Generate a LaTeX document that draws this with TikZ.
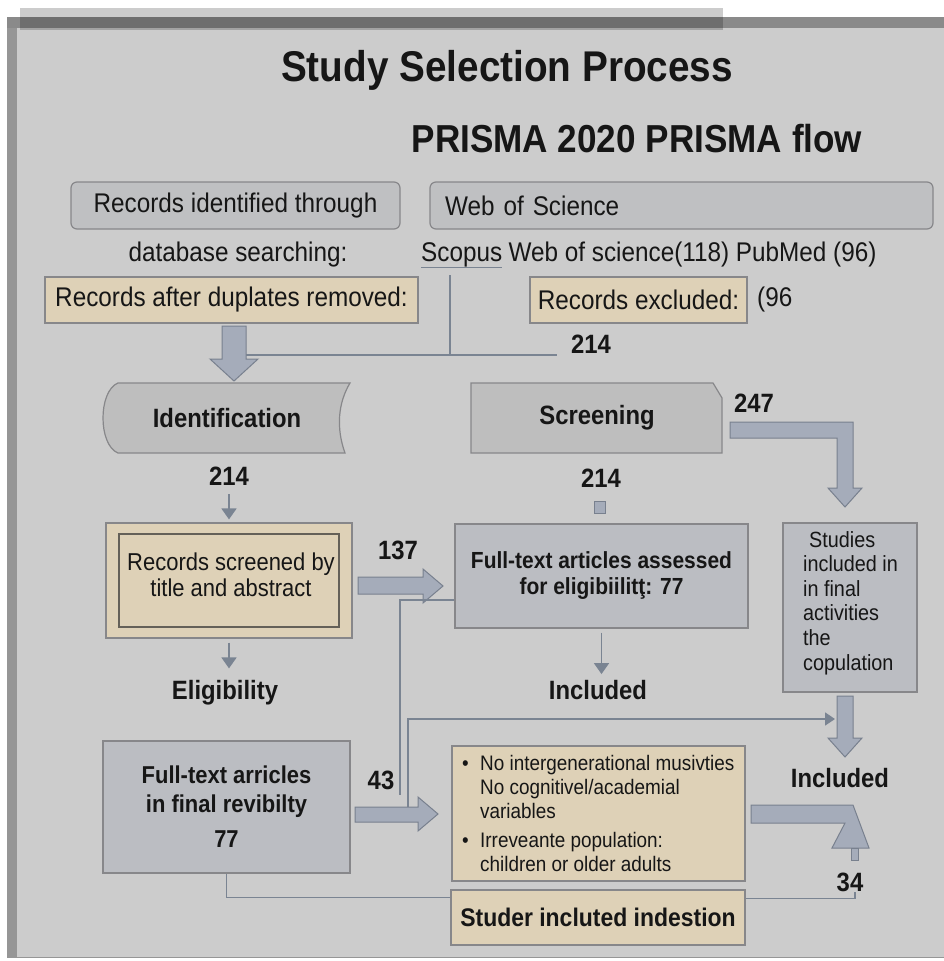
\documentclass[tikz,border=0pt]{standalone}
\usepackage{fontspec}
\setmainfont[FakeStretch=0.9]{Liberation Sans}
\usetikzlibrary{positioning,arrows.meta}

\definecolor{panel}{RGB}{204,204,204}
\definecolor{framegrey}{RGB}{150,150,150}
\definecolor{framedark}{RGB}{138,138,138}
\definecolor{boxgrey}{RGB}{191,192,194}
\definecolor{edge}{RGB}{135,135,138}
\definecolor{edgedark}{RGB}{100,96,88}
\definecolor{tan}{RGB}{222,209,183}
\definecolor{fullgrey}{RGB}{187,189,194}
\definecolor{shapegrey}{RGB}{190,190,190}
\definecolor{arrowfill}{RGB}{165,172,186}
\definecolor{arrowedge}{RGB}{120,128,142}
\definecolor{linegrey}{RGB}{122,132,146}
\definecolor{ink}{RGB}{22,22,22}

\begin{document}
\begin{tikzpicture}[x=1pt, y=-1pt, every node/.style={text=ink, inner sep=0pt}]
	\tikzset{
		roundbox/.style={draw=edge, fill=boxgrey, rounded corners=6pt, line width=1.2pt},
		tanbox/.style={draw=edge, fill=tan, line width=1.2pt},
		greybox/.style={draw=edge, fill=fullgrey, line width=1.2pt},
		shapebox/.style={draw=edge, fill=shapegrey, line width=1.2pt},
		blockarrow/.style={draw=arrowedge, fill=arrowfill, line width=1pt},
		thinline/.style={draw=linegrey, line width=1.8pt},
		smallarrow/.style={thinline, -{Triangle[width=15pt,length=11pt]}},
		plain/.style={font=\fontsize{27}{31}\selectfont},
		bold/.style={font=\fontsize{26.5}{31}\selectfont\bfseries},
	}
	\useasboundingbox (0,0) rectangle (944,961);
	% frame
	\fill[panel] (7,17) rectangle (944,958);
	\fill[framegrey] (7,17) rectangle (17,958);
	\fill[framedark] (7,17) rectangle (944,28);
	\draw[framegrey, line width=1pt] (7,957.5) -- (944,957.5);
	\fill[black, opacity=0.2] (20,8) rectangle (723,30);

	% titles
	\node[font=\fontsize{43}{48}\selectfont\bfseries] (title) at (507,70) {Study Selection Process};
	\node[font=\fontsize{39}{44}\selectfont\bfseries] (prisma) at (637,139) {PRISMA 2020 PRISMA flow};

	% databases
	\node[roundbox, plain, minimum width=329pt, minimum height=47pt] (recid) at (235.5,205.5) {Records identified through};
	\node[roundbox, plain, minimum width=503pt, minimum height=47pt, text width=473pt, align=left, inner xsep=15pt] (wos) at (681.5,205.5) {Web of Science};
	\node[plain] (dbsearch) at (238,255) {database searching:};
	\node[plain, anchor=west] (scopus) at (421,255) {Scopus};
	\node[plain, right=6pt of scopus] (dbnames) {Web of science(118) PubMed (96)};
	\draw[thinline] (scopus.south west) -- (scopus.south east);

	\node[tanbox, plain, minimum width=373pt, minimum height=46pt] (dupl) at (231.5,300) {Records after duplates removed:};
	\node[tanbox, plain, minimum width=217pt, minimum height=46pt] (excl) at (638.5,300) {Records excluded:};
	\node[plain, anchor=west] (excl96) at (757,300) {(96};

	\coordinate (jtop) at (450,275);
	\coordinate (jmid) at (450,355);
	\coordinate (jleft) at (235,355);
	\coordinate (jright) at (557,355);
	\draw[thinline] (jtop) -- (jmid);
	\draw[thinline] (jleft) -- (jright);
	\node[bold] (n214top) at (591,344) {214};
	\draw[blockarrow] (222,326) -- (246,326) -- (246,359) -- (258,359) -- (234,381) -- (210,359) -- (222,359) -- cycle;

	% phases
	\draw[shapebox] (118,383) -- (350,383) .. controls (338,403) and (336,428) .. (345,453) -- (118,453) .. controls (98,445) and (98,391) .. (118,383) -- cycle;
	\node[bold] (ident) at (227,418) {Identification};
	\draw[shapebox] (471,383) -- (713,383) -- (722,398) -- (722,453) -- (471,453) -- cycle;
	\node[bold] (screen) at (597,418) {Screening};
	\node[bold] (n247) at (754,403) {247};
	\draw[blockarrow] (730,422) -- (853,422) -- (853,488) -- (862,488) -- (845,507) -- (828,488) -- (837,488) -- (837,438) -- (730,438) -- cycle;

	% left column
	\node[bold] (n214a) at (229,476) {214};
	\node[tanbox, minimum width=246pt, minimum height=115pt] (tabox) at (229,580.5) {};
	\node[draw=edgedark, line width=1.2pt, minimum width=220pt, minimum height=93pt] (tainner) at (229,580.5) {};
	\node[font=\fontsize{24.4}{26}\selectfont, align=center] (tatext) at (231,575) {Records screened by\\title and abstract};
	\draw[smallarrow, shorten <=9pt, shorten >=3pt] (n214a.south) -- (tabox.north);
	\node[bold] (elig) at (225,693) {Eligibility};
	\draw[smallarrow, shorten <=4pt, shorten >=12pt] (tabox.south) -- (tabox.south |- elig.north);

	\node[bold] (n137) at (398,550) {137};
	\draw[blockarrow] (358,577) -- (423,577) -- (423,569) -- (443,586) -- (423,603) -- (423,594) -- (358,594) -- cycle;

	% middle column
	\node[bold] (n214b) at (601,478) {214};
	\draw[blockarrow] (594.5,501) rectangle (605.5,513);
	\node[greybox, font=\fontsize{23.3}{26}\selectfont\bfseries, minimum width=293pt, minimum height=104pt, align=center] (assess) at (601.5,576) {Full-text articles assessed\\for eligibiilitţ: 77};
	\node[bold] (incl1) at (598,690) {Included};
	\draw[smallarrow, shorten <=4pt, shorten >=6pt] (assess.south) -- (assess.south |- incl1.north);
	\coordinate (c43a) at (400,795);
	\draw[thinline] ([yshift=-24pt]assess.west) -| (c43a);

	% right column
	\node[greybox, minimum width=134pt, minimum height=169pt] (studies) at (850,607.5) {};
	\node[font=\fontsize{22}{24.6}\selectfont, align=left, anchor=west] (studtext) at (803,603) {\hspace*{6pt}Studies\\included in\\in final\\activities\\the\\copulation};
	\draw[blockarrow] (837,696) -- (853,696) -- (853,738) -- (862,738) -- (845,757) -- (828,738) -- (837,738) -- cycle;
	\node[bold] (incl2) at (840,778) {Included};
	\coordinate (c43b) at (408,807);
	\coordinate (cinc) at (835,719);
	\draw[thinline, -{Triangle[width=13pt,length=10pt]}] (c43b) |- (cinc);

	% bottom row
	\node[greybox, font=\fontsize{24.4}{29}\selectfont\bfseries, minimum width=247pt, minimum height=132pt, align=center] (final) at (226.5,807) {Full-text arricles\\in final revibilty\\[6pt]77};
	\node[bold] (n43) at (381,780) {43};
	\draw[blockarrow] (355,807) -- (418,807) -- (418,797) -- (438,814) -- (418,831) -- (418,822) -- (355,822) -- cycle;
	\node[tanbox, minimum width=293pt, minimum height=135pt] (reasons) at (598.5,813.5) {};
	\node[font=\fontsize{21}{24}\selectfont, align=left, anchor=west] (reasontext) at (462,813) {\makebox[18pt][l]{•}No intergenerational musivties\\\hspace*{18pt}No cognitivel/academial\\\hspace*{18pt}variables\\[5pt]\makebox[18pt][l]{•}Irreveante population:\\\hspace*{18pt}children or older adults};
	\node[tanbox, font=\fontsize{25.5}{28}\selectfont\bfseries, minimum width=294pt, minimum height=55pt] (studer) at (598,917.5) {Studer incluted indestion};
	\draw[thinline] (final.south) |- ([yshift=20pt]studer.west);
	\node[bold] (n34) at (850,882) {34};
	\draw[thinline] ([yshift=19pt]studer.east) -| ([xshift=5pt]n34.south);
	\draw[blockarrow] (751,805) -- (853,805) -- (869,848) -- (832,848) -- (845,823) -- (751,823) -- cycle;
	\draw[blockarrow] (851,848) rectangle (858,860);
\end{tikzpicture}
\end{document}
